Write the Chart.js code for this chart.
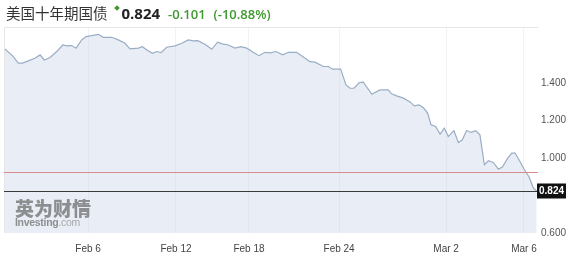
<!DOCTYPE html>
<html>
<head>
<meta charset="utf-8">
<script src="https://cdn.jsdelivr.net/npm/chart.js@4"></script>
<style>
  html, body { margin: 0; padding: 0; background: #fff; }
  #wrap { position: relative; width: 567px; height: 266px; overflow: hidden; }
  #c { position: absolute; left: 0; top: 0; }
  #head { position: absolute; left: 6px; top: 2px; white-space: nowrap; font-family: 'Open Sans', sans-serif; }
  #head .name { font-family: 'Noto Sans CJK SC', sans-serif; font-size: 14.5px; color: #333; }
  #head .dot { display: inline-block; width: 4px; height: 4px; background: #3d9a2e; transform: rotate(45deg); position: relative; top: -9px; margin: 0 3px 0 7px; }
  #head .last { font-size: 15px; font-weight: 700; color: #222; }
  #head .chg { font-size: 13px; color: #3d9a2e; margin-left: 8px; font-weight: 600; }
  #wm { position: absolute; left: 15px; top: 198px; color: rgba(110,110,110,0.75); line-height: 1; }
  #wm .cn { font-family: 'Noto Sans CJK SC', sans-serif; font-weight: 900; font-size: 19px; }
  #wm .en { font-family: 'Liberation Sans', Arial, sans-serif; font-size: 10.5px; font-weight: 700; letter-spacing: -0.3px; }
  #wm .en span { font-weight: 400; color: rgba(150,150,150,0.8); }
</style>
</head>
<body>
<div id="wrap">
  <canvas id="c" width="567" height="266"></canvas>
  <div id="head"><span class="name">美国十年期国债</span><span class="dot"></span><span class="last">0.824</span><span class="chg">-0.101</span><span class="chg">(-10.88%)</span></div>
  <div id="wm"><div class="cn">英为财情</div><div class="en">Investing<span>.com</span></div></div>
</div>
<script>
// time in trading days from the left edge of the chart
var times = [0.00, 0.42, 0.64, 0.84, 1.09, 1.39, 1.62, 1.81, 2.07, 2.37,
  2.64, 2.82, 3.04, 3.24, 3.49, 3.69, 3.94, 4.24, 4.46, 4.84,
  5.14, 5.44, 5.66, 6.04, 6.22, 6.41, 6.67, 6.86, 7.06, 7.31,
  7.69, 7.99, 8.28, 8.51, 8.71, 9.03, 9.34, 9.60, 9.81, 10.08,
  10.38, 10.65, 10.91, 11.20, 11.46, 11.73, 11.96, 12.22, 12.53, 12.78,
  13.15, 13.42, 13.75, 13.98, 14.35, 14.58, 14.77, 15.13, 15.37, 15.55,
  15.73, 15.97, 16.15, 16.53, 16.90, 17.27, 17.42, 17.65, 17.95, 18.25,
  18.44, 18.65, 18.84, 19.04, 19.19, 19.40, 19.60, 19.79, 19.97, 20.22,
  20.42, 20.60, 20.79, 20.99, 21.20, 21.39, 21.59, 21.77, 21.99, 22.22,
  22.40, 22.64, 22.82, 22.97, 23.19, 23.39, 23.60, 23.79, 23.94];

var yields = [1.587, 1.542, 1.507, 1.507, 1.519, 1.533, 1.551, 1.524, 1.537, 1.569,
  1.604, 1.599, 1.601, 1.587, 1.631, 1.649, 1.654, 1.661, 1.645, 1.645,
  1.631, 1.613, 1.583, 1.587, 1.595, 1.578, 1.560, 1.569, 1.563, 1.592,
  1.599, 1.613, 1.631, 1.626, 1.627, 1.608, 1.581, 1.619, 1.610, 1.604,
  1.587, 1.595, 1.587, 1.565, 1.547, 1.565, 1.562, 1.569, 1.551, 1.565,
  1.565, 1.542, 1.515, 1.512, 1.489, 1.489, 1.475, 1.475, 1.391, 1.373,
  1.373, 1.403, 1.405, 1.341, 1.364, 1.364, 1.343, 1.332, 1.320, 1.300,
  1.279, 1.284, 1.270, 1.240, 1.178, 1.169, 1.128, 1.160, 1.115, 1.147,
  1.083, 1.098, 1.147, 1.137, 1.146, 1.124, 0.964, 0.986, 0.977, 0.941,
  0.952, 1.000, 1.027, 1.027, 0.982, 0.938, 0.899, 0.840, 0.824];

var xTickLabels = ['Feb 6', 'Feb 12', 'Feb 18', 'Feb 24', 'Mar 2', 'Mar 6'];
var xTickTimes = [3.78, 7.73, 11.01, 15.06, 19.87, 23.37];
var yTicks = [0.6, 1.0, 1.2, 1.4];

var lastPrice = 0.824;
var prevClose = 0.925;

var refLines = {
  id: 'refLines',
  afterDatasetsDraw: function (chart) {
    var ctx = chart.ctx;
    var a = chart.chartArea;
    var y = chart.scales.y;
    ctx.save();
    // frame
    ctx.strokeStyle = '#e6e6e6';
    ctx.lineWidth = 1;
    ctx.beginPath();
    ctx.moveTo(a.left + 0.5, a.bottom);
    ctx.lineTo(a.left + 0.5, a.top + 0.5);
    ctx.lineTo(a.right, a.top + 0.5);
    ctx.stroke();
    // previous close
    var py = Math.round(y.getPixelForValue(prevClose)) + 0.5;
    ctx.strokeStyle = '#d98a8a';
    ctx.beginPath();
    ctx.moveTo(a.left, py);
    ctx.lineTo(a.right, py);
    ctx.stroke();
    // last price
    var ly = Math.round(y.getPixelForValue(lastPrice)) + 0.5;
    ctx.strokeStyle = '#3a3a3a';
    ctx.beginPath();
    ctx.moveTo(a.left, ly);
    ctx.lineTo(a.right, ly);
    ctx.stroke();
    ctx.fillStyle = '#111';
    ctx.fillRect(a.right - 1, ly - 8, 29, 15);
    ctx.fillStyle = '#fff';
    ctx.font = 'bold 10px "Liberation Sans", Arial, sans-serif';
    ctx.textAlign = 'left';
    ctx.textBaseline = 'middle';
    ctx.fillText(lastPrice.toFixed(3), a.right + 1, ly);
    ctx.restore();
  }
};

var ctx = document.getElementById('c').getContext('2d');
var chart = new Chart(ctx, {
  type: 'line',
  data: {
    datasets: [{
      data: times.map(function (t, i) { return { x: t, y: yields[i] }; }),
      borderColor: '#9aadc5',
      borderWidth: 1.2,
      backgroundColor: 'rgba(200, 212, 232, 0.4)',
      fill: 'start',
      pointRadius: 0,
      tension: 0
    }]
  },
  options: {
    responsive: false,
    animation: false,
    layout: { padding: { top: 27, left: 4, right: 0, bottom: 0 } },
    plugins: { legend: { display: false }, tooltip: { enabled: false } },
    scales: {
      x: {
        type: 'linear',
        min: 0,
        max: 24,
        afterBuildTicks: function (scale) {
          scale.ticks = xTickTimes.map(function (v) { return { value: v }; });
        },
        afterFit: function (scale) { scale.height = 33; },
        ticks: {
          autoSkip: false,
          maxRotation: 0,
          padding: 10,
          color: '#444',
          font: { family: '"Liberation Sans", Arial, sans-serif', size: 10 },
          callback: function (v) {
            var i = xTickTimes.indexOf(v);
            return i >= 0 ? xTickLabels[i] : '';
          }
        },
        grid: { color: '#f0f2f5', drawTicks: false, tickLength: 0 },
        border: { display: false }
      },
      y: {
        position: 'right',
        min: 0.6,
        max: 1.7,
        afterBuildTicks: function (scale) {
          scale.ticks = yTicks.map(function (v) { return { value: v }; });
        },
        afterFit: function (scale) { scale.width = 29; },
        ticks: {
          padding: 3,
          color: '#555',
          font: { family: '"Liberation Sans", Arial, sans-serif', size: 10 },
          callback: function (v) { return Number(v).toFixed(3); }
        },
        grid: { display: false, drawTicks: false, tickLength: 0 },
        border: { display: false }
      }
    }
  },
  plugins: [refLines]
});
</script>
</body>
</html>
